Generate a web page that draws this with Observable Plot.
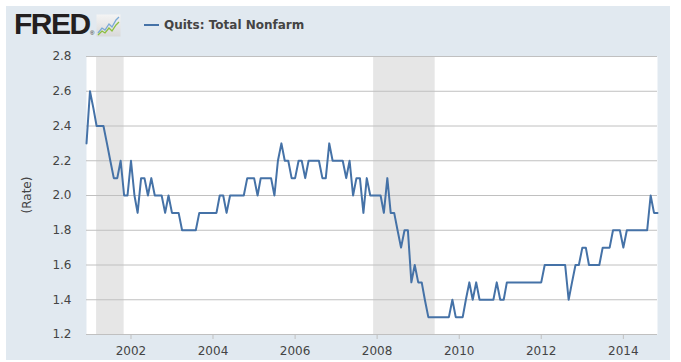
<!DOCTYPE html>
<html><head><meta charset="utf-8">
<script src="https://cdn.jsdelivr.net/npm/d3@7"></script>
<script src="https://cdn.jsdelivr.net/npm/@observablehq/plot@0.6"></script>
<style>
body{margin:0;background:#fff;}
#panel{position:absolute;left:6px;top:6px;width:664px;height:354px;background:#e1e9f0;overflow:hidden;}
#head{position:relative;height:40px;}
#logo{position:absolute;left:8px;top:3px;font:bold 30px/30px "Liberation Sans",Arial,sans-serif;letter-spacing:-1.5px;color:#231f20;}
#reg{position:absolute;left:84px;top:24px;font:6px "Liberation Sans";color:#231f20;}
#icon{position:absolute;left:90px;top:8px;}
#legend{position:absolute;left:138px;top:11px;font:bold 12px/16px "DejaVu Sans",sans-serif;color:#444;white-space:nowrap;}
#legend span.sw{display:inline-block;width:15px;height:2px;background:#4572a7;vertical-align:middle;margin-right:5px;position:relative;top:-1px;}
#chart{position:absolute;left:0;top:40px;}
#ylabel{position:absolute;left:21px;top:189px;transform:translate(-50%,-50%) rotate(-90deg);font:12px "DejaVu Sans",sans-serif;color:#444;white-space:nowrap;}
</style></head>
<body>
<div id="panel">
  <div id="head">
    <div id="logo">FRED</div>
    <div id="reg">®</div>
    <svg id="icon" width="25" height="23" viewBox="0 0 25 23">
      <defs><linearGradient id="g" x1="0" y1="0" x2="0" y2="1"><stop offset="0" stop-color="#f4f4f4"/><stop offset="1" stop-color="#d9d9d9"/></linearGradient></defs>
      <rect x="0.5" y="0.5" width="24" height="22" fill="url(#g)"/>
      <polyline points="2,19 6,14 9,16 13,10 16,13 20,6 23,3" fill="none" stroke="#7aa9d6" stroke-width="1.3"/>
      <polyline points="2,21 6,17 9,19 13,14 16,17 20,11 23,8" fill="none" stroke="#8cbf3f" stroke-width="1.3"/>
    </svg>
    <div id="legend"><span class="sw"></span><span id="series"></span></div>
  </div>
  <div id="chart"></div>
  <div id="ylabel"></div>
</div>
<script>
// Quits: Total Nonfarm (rate), monthly, starting December 2000
const startMonth = "2000-12-01";
const quitsRate = [
  2.3,                                                        // 2000-12
  2.6, 2.5, 2.4, 2.4, 2.4, 2.3, 2.2, 2.1, 2.1, 2.2, 2.0, 2.0, // 2001
  2.2, 2.0, 1.9, 2.1, 2.1, 2.0, 2.1, 2.0, 2.0, 2.0, 1.9, 2.0, // 2002
  1.9, 1.9, 1.9, 1.8, 1.8, 1.8, 1.8, 1.8, 1.9, 1.9, 1.9, 1.9, // 2003
  1.9, 1.9, 2.0, 2.0, 1.9, 2.0, 2.0, 2.0, 2.0, 2.0, 2.1, 2.1, // 2004
  2.1, 2.0, 2.1, 2.1, 2.1, 2.1, 2.0, 2.2, 2.3, 2.2, 2.2, 2.1, // 2005
  2.1, 2.2, 2.2, 2.1, 2.2, 2.2, 2.2, 2.2, 2.1, 2.1, 2.3, 2.2, // 2006
  2.2, 2.2, 2.2, 2.1, 2.2, 2.0, 2.1, 2.1, 1.9, 2.1, 2.0, 2.0, // 2007
  2.0, 2.0, 1.9, 2.1, 1.9, 1.9, 1.8, 1.7, 1.8, 1.8, 1.5, 1.6, // 2008
  1.5, 1.5, 1.4, 1.3, 1.3, 1.3, 1.3, 1.3, 1.3, 1.3, 1.4, 1.3, // 2009
  1.3, 1.3, 1.4, 1.5, 1.4, 1.5, 1.4, 1.4, 1.4, 1.4, 1.4, 1.5, // 2010
  1.4, 1.4, 1.5, 1.5, 1.5, 1.5, 1.5, 1.5, 1.5, 1.5, 1.5, 1.5, // 2011
  1.5, 1.6, 1.6, 1.6, 1.6, 1.6, 1.6, 1.6, 1.4, 1.5, 1.6, 1.6, // 2012
  1.7, 1.7, 1.6, 1.6, 1.6, 1.6, 1.7, 1.7, 1.7, 1.8, 1.8, 1.8, // 2013
  1.7, 1.8, 1.8, 1.8, 1.8, 1.8, 1.8, 1.8, 2.0, 1.9, 1.9       // 2014
];
const recessionStarts = ["2001-03-01", "2007-12-01"];
const recessionEnds   = ["2001-11-01", "2009-06-01"];
const yTicks = [1.2, 1.4, 1.6, 1.8, 2.0, 2.2, 2.4, 2.6, 2.8];
const xTickYears = [2002, 2004, 2006, 2008, 2010, 2012, 2014];
const seriesName = "Quits: Total Nonfarm";
const yLabel = "(Rate)";

document.getElementById("series").textContent = seriesName;
document.getElementById("ylabel").textContent = yLabel;

const start = new Date(startMonth + "T00:00:00Z");
const data = quitsRate.map((v, i) => ({date: d3.utcMonth.offset(start, i), value: v}));
const recessions = recessionStarts.map((s, i) => ({start: new Date(s + "T00:00:00Z"), end: new Date(recessionEnds[i] + "T00:00:00Z")}));
const xTicks = xTickYears.map(y => new Date(Date.UTC(y, 0, 1)));

const chart = Plot.plot({
  width: 664, height: 314,
  marginLeft: 80, marginRight: 13, marginTop: 10, marginBottom: 26,
  style: {background: "transparent", fontSize: "12px", fontFamily: "'DejaVu Sans', sans-serif", color: "#444"},
  x: {type: "utc", domain: [data[0].date, data[data.length - 1].date]},
  y: {domain: [1.2, 2.8]},
  marks: [
    Plot.frame({fill: "white", stroke: null}),
    Plot.rect(recessions, {x1: "start", x2: "end", fill: "#e6e6e6"}),
    Plot.gridY(yTicks, {stroke: "#c0c0c0", strokeOpacity: 1}),
    Plot.axisY(yTicks, {tickSize: 0, tickPadding: 15, tickFormat: d3.format(".1f"), label: null}),
    Plot.axisX(xTicks, {tickSize: 5, tickPadding: 7, stroke: "#c0c0c0", tickFormat: d3.utcFormat("%Y"), label: null}),
    Plot.lineY(data, {x: "date", y: "value", stroke: "#4572a7", strokeWidth: 2})
  ]
});
document.getElementById("chart").appendChild(chart);
</script>
</body></html>
